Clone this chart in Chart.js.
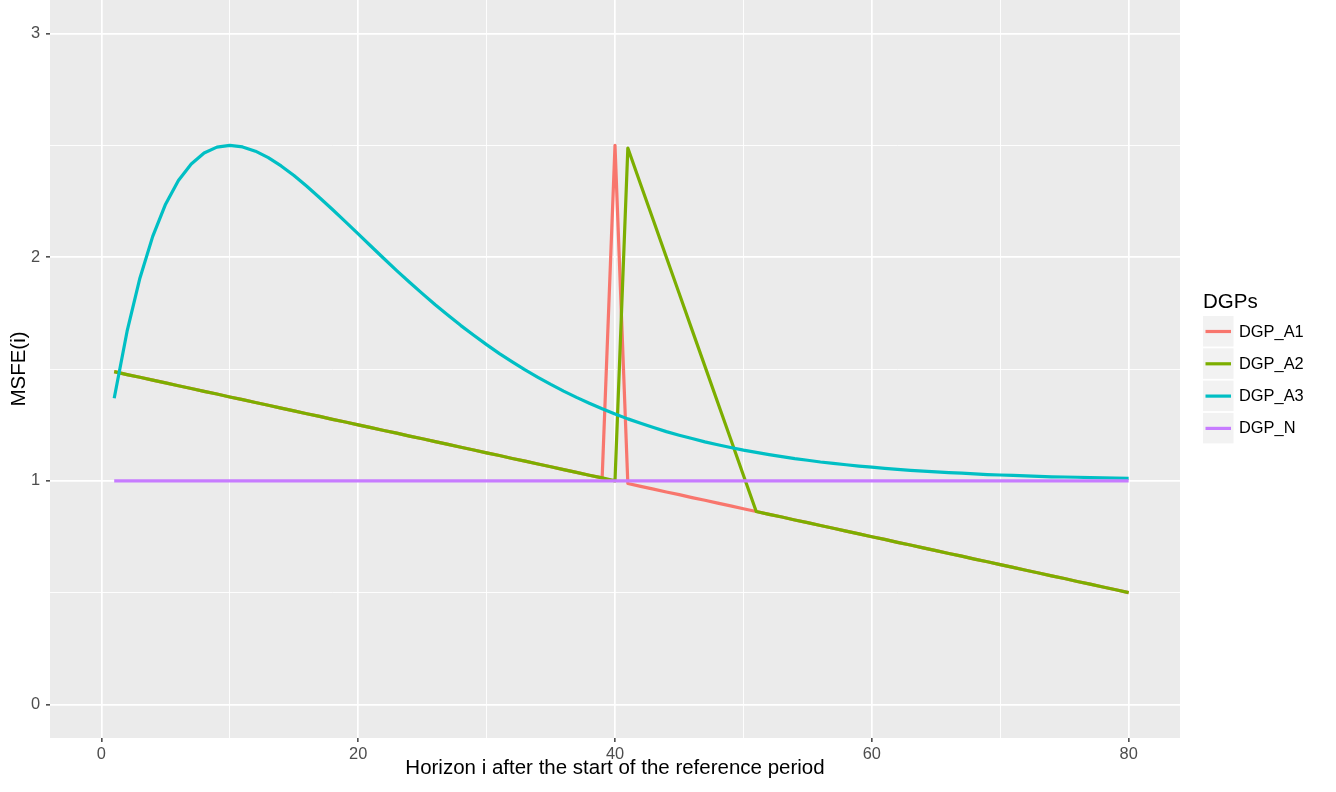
<!DOCTYPE html>
<html>
<head>
<meta charset="utf-8">
<script src="https://cdn.jsdelivr.net/npm/chart.js@4"></script>
<style>
  body { margin: 0; background: #ffffff; }
  #wrap { width: 1336px; height: 792px; position: relative; }
</style>
</head>
<body>
<div id="wrap"><canvas id="chart"></canvas></div>
<script>
//Horizons on the x axis
const horizons = [1, 2, 3, 4, 5, 6, 7, 8, 9, 10, 11, 12, 13, 14, 15, 16, 17, 18, 19, 20,
    21, 22, 23, 24, 25, 26, 27, 28, 29, 30, 31, 32, 33, 34, 35, 36, 37, 38, 39, 40,
    41, 42, 43, 44, 45, 46, 47, 48, 49, 50, 51, 52, 53, 54, 55, 56, 57, 58, 59, 60,
    61, 62, 63, 64, 65, 66, 67, 68, 69, 70, 71, 72, 73, 74, 75, 76, 77, 78, 79, 80];

//MSFE values
const dgpA1 = [1.488, 1.475, 1.463, 1.45, 1.438, 1.425, 1.413, 1.4, 1.388, 1.375,
    1.363, 1.35, 1.338, 1.325, 1.313, 1.3, 1.288, 1.275, 1.263, 1.25,
    1.238, 1.225, 1.213, 1.2, 1.188, 1.175, 1.163, 1.15, 1.138, 1.125,
    1.113, 1.1, 1.088, 1.075, 1.063, 1.05, 1.038, 1.025, 1.013, 2.5,
    0.988, 0.975, 0.963, 0.95, 0.938, 0.925, 0.913, 0.9, 0.888, 0.875,
    0.863, 0.85, 0.838, 0.825, 0.813, 0.8, 0.788, 0.775, 0.763, 0.75,
    0.738, 0.725, 0.713, 0.7, 0.688, 0.675, 0.663, 0.65, 0.638, 0.625,
    0.613, 0.6, 0.588, 0.575, 0.563, 0.55, 0.538, 0.525, 0.513, 0.5];

const dgpA2 = [1.488, 1.475, 1.463, 1.45, 1.438, 1.425, 1.413, 1.4, 1.388, 1.375,
    1.363, 1.35, 1.338, 1.325, 1.313, 1.3, 1.288, 1.275, 1.263, 1.25,
    1.238, 1.225, 1.213, 1.2, 1.188, 1.175, 1.163, 1.15, 1.138, 1.125,
    1.113, 1.1, 1.088, 1.075, 1.063, 1.05, 1.038, 1.025, 1.013, 1.0,
    2.488, 2.325, 2.163, 2.0, 1.838, 1.675, 1.513, 1.35, 1.188, 1.025,
    0.863, 0.85, 0.838, 0.825, 0.813, 0.8, 0.788, 0.775, 0.763, 0.75,
    0.738, 0.725, 0.713, 0.7, 0.688, 0.675, 0.663, 0.65, 0.638, 0.625,
    0.613, 0.6, 0.588, 0.575, 0.563, 0.55, 0.538, 0.525, 0.513, 0.5];

const dgpA3 = [1.369, 1.668, 1.906, 2.093, 2.237, 2.343, 2.417, 2.466, 2.492, 2.5,
    2.493, 2.474, 2.445, 2.408, 2.365, 2.317, 2.266, 2.213, 2.159, 2.104,
    2.049, 1.994, 1.94, 1.888, 1.837, 1.787, 1.74, 1.694, 1.651, 1.609,
    1.569, 1.532, 1.496, 1.463, 1.431, 1.401, 1.373, 1.347, 1.322, 1.299,
    1.277, 1.257, 1.238, 1.22, 1.204, 1.189, 1.174, 1.161, 1.149, 1.137,
    1.127, 1.117, 1.108, 1.099, 1.092, 1.084, 1.078, 1.072, 1.066, 1.061,
    1.056, 1.051, 1.047, 1.043, 1.04, 1.037, 1.034, 1.031, 1.028, 1.026,
    1.024, 1.022, 1.02, 1.018, 1.017, 1.016, 1.014, 1.013, 1.012, 1.011];

const dgpN = [1, 1, 1, 1, 1, 1, 1, 1, 1, 1, 1, 1, 1, 1, 1, 1, 1, 1, 1, 1,
    1, 1, 1, 1, 1, 1, 1, 1, 1, 1, 1, 1, 1, 1, 1, 1, 1, 1, 1, 1,
    1, 1, 1, 1, 1, 1, 1, 1, 1, 1, 1, 1, 1, 1, 1, 1, 1, 1, 1, 1,
    1, 1, 1, 1, 1, 1, 1, 1, 1, 1, 1, 1, 1, 1, 1, 1, 1, 1, 1, 1];

const seriesNames = ['DGP_A1', 'DGP_A2', 'DGP_A3', 'DGP_N'];
const seriesValues = [dgpA1, dgpA2, dgpA3, dgpN];

//Tick positions (majors get a label, minors only a grid line)
const xTicks = [0, 10, 20, 30, 40, 50, 60, 70, 80];
const xLabels = [0, 20, 40, 60, 80];
const yTicks = [0, 0.5, 1, 1.5, 2, 2.5, 3];
const yLabels = [0, 1, 2, 3];

//ggplot default hue palette
const colors = ['#F8766D', '#7CAE00', '#00BFC4', '#C77CFF'];
const fontFamily = '"Liberation Sans", Arial, Helvetica, sans-serif';

const datasets = seriesNames.map((name, i) => ({
    label: name,
    data: horizons.map((h, j) => ({ x: h, y: seriesValues[i][j] })),
    borderColor: colors[i],
    backgroundColor: colors[i],
    borderWidth: 3.2,
    borderJoinStyle: 'round',
    borderCapStyle: 'butt',
    pointRadius: 0,
    tension: 0,
    //later series are drawn on top, like ggplot
    order: seriesNames.length - i
}));

//Grey panel behind the plot
const panelBackground = {
    id: 'panelBackground',
    beforeDraw(chart) {
        const { ctx, chartArea: a } = chart;
        ctx.save();
        ctx.fillStyle = '#EBEBEB';
        ctx.fillRect(a.left, a.top, a.right - a.left, a.bottom - a.top);
        ctx.restore();
    }
};

//ggplot-like legend on the right
const sideLegend = {
    id: 'sideLegend',
    afterDraw(chart) {
        const ctx = chart.ctx;
        const x0 = 1203;
        ctx.save();
        ctx.fillStyle = '#000000';
        ctx.font = '20.5px ' + fontFamily;
        ctx.textAlign = 'left';
        ctx.textBaseline = 'alphabetic';
        ctx.fillText('DGPs', x0, 307.5);

        chart.data.datasets.forEach((ds, i) => {
            const top = 316 + i * 32.3;
            ctx.fillStyle = '#F2F2F2';
            ctx.fillRect(x0, top, 30.5, 30.5);
            ctx.strokeStyle = ds.borderColor;
            ctx.lineWidth = 3.2;
            ctx.beginPath();
            ctx.moveTo(x0 + 2.5, top + 15.5);
            ctx.lineTo(x0 + 28, top + 15.5);
            ctx.stroke();
            ctx.fillStyle = '#000000';
            ctx.font = '16.4px ' + fontFamily;
            ctx.textBaseline = 'middle';
            ctx.fillText(ds.label, 1239, top + 16);
        });
        ctx.restore();
    }
};

const isMajorX = ctx => ctx.tick && xLabels.includes(ctx.tick.value);
const isMajorY = ctx => ctx.tick && yLabels.includes(ctx.tick.value);

const config = {
    type: 'line',
    data: { datasets: datasets },
    options: {
        responsive: true,
        maintainAspectRatio: false,
        animation: false,
        layout: {
            padding: { left: 0, right: 156, top: 0, bottom: 0 }
        },
        plugins: {
            legend: { display: false },
            tooltip: { enabled: false }
        },
        scales: {
            x: {
                type: 'linear',
                min: -4,
                max: 84,
                afterBuildTicks: s => { s.ticks = xTicks.map(v => ({ value: v })); },
                afterFit: s => { s.height = 54; s.paddingLeft = 0; s.paddingRight = 0; },
                border: { display: false },
                grid: {
                    color: '#FFFFFF',
                    lineWidth: ctx => isMajorX(ctx) ? 1.7 : 0.9,
                    tickLength: 4,
                    tickWidth: 1.4,
                    tickColor: ctx => isMajorX(ctx) ? '#333333' : 'rgba(0,0,0,0)'
                },
                ticks: {
                    autoSkip: false,
                    maxRotation: 0,
                    padding: 3,
                    color: '#4D4D4D',
                    font: { size: 16.4, family: fontFamily },
                    callback: v => xLabels.includes(v) ? String(v) : ''
                },
                title: {
                    display: true,
                    text: 'Horizon i after the start of the reference period',
                    color: '#000000',
                    font: { size: 20.5, family: fontFamily },
                    padding: { top: 0, bottom: 11 }
                }
            },
            y: {
                type: 'linear',
                min: -0.15,
                max: 3.15,
                afterBuildTicks: s => { s.ticks = yTicks.map(v => ({ value: v })); },
                afterFit: s => { s.width = 50; s.paddingTop = 0; s.paddingBottom = 0; },
                border: { display: false },
                grid: {
                    color: '#FFFFFF',
                    lineWidth: ctx => isMajorY(ctx) ? 1.7 : 0.9,
                    tickLength: 4,
                    tickWidth: 1.4,
                    tickColor: ctx => isMajorY(ctx) ? '#333333' : 'rgba(0,0,0,0)'
                },
                ticks: {
                    autoSkip: false,
                    padding: 6,
                    color: '#4D4D4D',
                    font: { size: 16.4, family: fontFamily },
                    callback: v => yLabels.includes(v) ? String(v) : ''
                },
                title: {
                    display: true,
                    text: 'MSFE(i)',
                    color: '#000000',
                    font: { size: 20.5, family: fontFamily },
                    padding: { top: 7, bottom: 0 }
                }
            }
        }
    },
    plugins: [panelBackground, sideLegend]
};

const myChart = new Chart(document.getElementById('chart'), config);
</script>
</body>
</html>
